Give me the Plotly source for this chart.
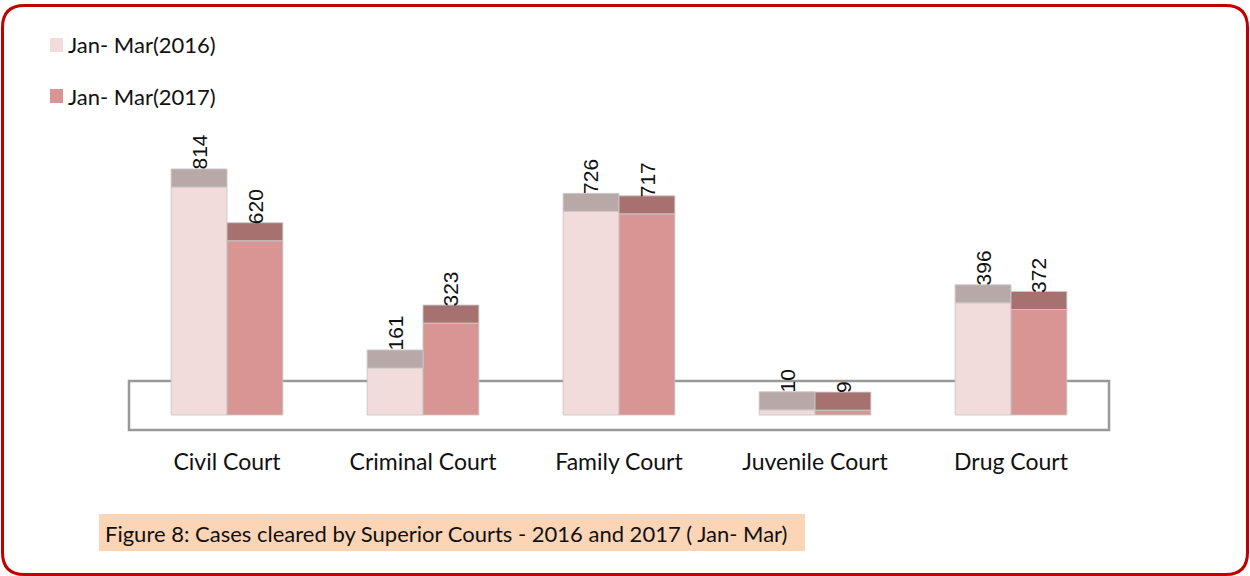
import plotly.graph_objects as go

categories = ["Civil Court", "Criminal Court", "Family Court", "Juvenile Court", "Drug Court"]
series_names = ["Jan- Mar(2016)", "Jan- Mar(2017)"]
values_2016 = [814, 161, 726, 10, 396]
values_2017 = [620, 323, 717, 9, 372]
caption = "Figure 8: Cases cleared by Superior Courts - 2016 and 2017 ( Jan- Mar)"

W, H = 1250, 576
L, R, T, B = 129, 141, 100, 145
PW, PH = W - L - R, H - T - B

K = 0.2772                 # px per data unit
BASE = -20.4 / K           # 3D base offset
CAP = 18 / K               # thickness of the top face
YMIN = BASE - 16 / K
YMAX = YMIN + PH / K

body_cols = ["#F2DCDB", "#D99594"]
cap_cols = ["#B9A8A8", "#A6716F"]
line_col = "rgba(200,200,200,0.9)"
FONT = "Lato"

x = list(range(len(categories)))
fig = go.Figure()
for i, vals in enumerate([values_2016, values_2017]):
    fig.add_trace(go.Bar(
        x=x, y=[v - CAP - BASE for v in vals], base=BASE, name=series_names[i],
        offsetgroup=str(i), marker=dict(color=body_cols[i], line=dict(color=line_col, width=1)),
        showlegend=False, hoverinfo="skip"))
for i, vals in enumerate([values_2016, values_2017]):
    fig.add_trace(go.Bar(
        x=x, y=[CAP] * len(vals), base=[v - CAP for v in vals],
        offsetgroup=str(i), marker=dict(color=cap_cols[i], line=dict(color=line_col, width=1)),
        showlegend=False, hoverinfo="skip"))

bw = (1 - 0.43) / 2
annotations = []
for i, vals in enumerate([values_2016, values_2017]):
    off = (-0.5 + i) * bw
    for xi, v in zip(x, vals):
        annotations.append(dict(x=xi + off, y=v, text=str(v), textangle=-90, showarrow=False,
                                xanchor="center", yanchor="bottom", yshift=-3,
                                font=dict(family="Liberation Sans", size=21, color="#111111")))

def px(xp):
    return (xp - L) / PW

def py(yp):
    return (T + PH - yp) / PH

shapes = []
# floor
shapes.append(dict(type="rect", xref="paper", yref="paper", x0=0, x1=1, y0=py(430), y1=py(381),
                   line=dict(color="#999999", width=2.5), layer="below"))
# legend squares
for j, yc in enumerate([45, 96]):
    shapes.append(dict(type="rect", xref="paper", yref="paper", x0=px(50), x1=px(63),
                       y0=py(yc + 7), y1=py(yc - 7), fillcolor=body_cols[j], line=dict(width=0)))
    annotations.append(dict(x=px(66), y=py(yc), xref="paper", yref="paper", text=series_names[j],
                            showarrow=False, xanchor="left", yanchor="middle",
                            font=dict(family=FONT, size=22, color="#111111")))
# caption
shapes.append(dict(type="rect", xref="paper", yref="paper", x0=px(99), x1=px(805),
                   y0=py(551), y1=py(514), fillcolor="#FBD5B5", line=dict(width=0)))
annotations.append(dict(x=px(103), y=py(533), xref="paper", yref="paper", text=caption,
                        showarrow=False, xanchor="left", yanchor="middle",
                        font=dict(family=FONT, size=22, color="#111111")))
# rounded border
x0, x1, y0, y1, r = 2.5, 1247.5, 5.5, 574.5, 22
path = (f"M {px(x0+r)},{py(y0)} L {px(x1-r)},{py(y0)} Q {px(x1)},{py(y0)} {px(x1)},{py(y0+r)} "
        f"L {px(x1)},{py(y1-r)} Q {px(x1)},{py(y1)} {px(x1-r)},{py(y1)} "
        f"L {px(x0+r)},{py(y1)} Q {px(x0)},{py(y1)} {px(x0)},{py(y1-r)} "
        f"L {px(x0)},{py(y0+r)} Q {px(x0)},{py(y0)} {px(x0+r)},{py(y0)} Z")
shapes.append(dict(type="path", xref="paper", yref="paper", path=path,
                   line=dict(color="#C00000", width=3)))

fig.update_layout(
    width=W, height=H, margin=dict(l=L, r=R, t=T, b=B),
    paper_bgcolor="white", plot_bgcolor="white",
    barmode="group", bargap=0.43, bargroupgap=0,
    showlegend=False,
    xaxis=dict(range=[-0.5, len(categories) - 0.5], tickvals=x, ticktext=categories,
               showgrid=False, zeroline=False, showline=False, ticks="",
               ticklabelstandoff=15, tickfont=dict(family=FONT, size=23, color="#111111")),
    yaxis=dict(range=[YMIN, YMAX], visible=False, showgrid=False, zeroline=False),
    shapes=shapes, annotations=annotations,
)
fig.write_html("out.html", config={"displayModeBar": False},
               post_script="document.body.style.margin='0px';document.body.style.overflow='hidden';")
